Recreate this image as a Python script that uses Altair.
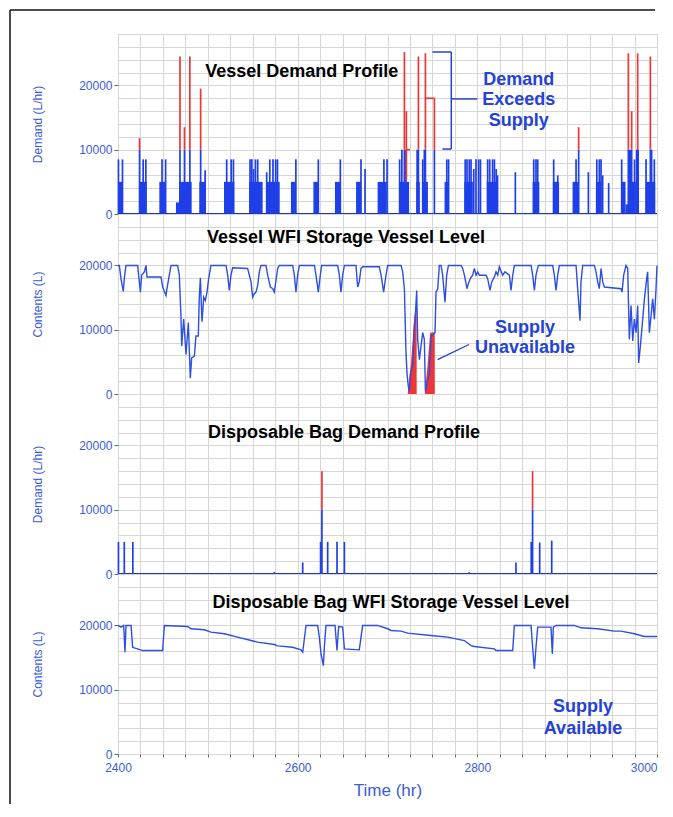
import altair as alt
import pandas as pd

# ---------------- axes / shared values ----------------
X_DOMAIN = [2400, 3000]
Y_DOMAIN = [0, 28000]
SUPPLY_CAP = 10000
grid_x = list(range(2400, 3001, 25))
grid_y = list(range(0, 28001, 2000))

# ---------------- Panel 1: Vessel demand profile ----------------
v_block_t0 = [2400, 2424, 2446, 2464.5, 2468, 2490.5, 2518, 2546, 2565, 2592.5, 2617.5, 2641.5, 2665,
              2689, 2713, 2732, 2739, 2763.5, 2785.5, 2810.5, 2861.5, 2884, 2906, 2932, 2960.5,
              2965, 2968, 2972, 2976.5, 2987.5]
v_block_t1 = [2405, 2432, 2453, 2468, 2482, 2497, 2529.5, 2561, 2580, 2598, 2623, 2647.5, 2670.5,
              2699, 2724, 2736, 2745, 2768, 2795, 2822.5, 2869, 2891, 2913, 2938, 2965,
              2968, 2972, 2976.5, 2980, 2998]
v_block_val = [5000, 5000, 5000, 1800, 5000, 5000, 5000, 5000, 5000, 5000, 5000, 5000, 5000,
               5000, 5000, 5000, 5000, 5000, 5000, 5000, 5000, 5000, 5000, 5000, 5000,
               1500, 10000, 5000, 10000, 5000]

v_spike_t = [2400.5, 2405, 2424, 2428, 2431, 2449, 2453, 2469, 2474, 2480, 2492, 2497,
             2521, 2526, 2528.5, 2547, 2549, 2551, 2553, 2555.5, 2565.5, 2569, 2572.5, 2575.5, 2577.5,
             2598, 2623, 2647.5, 2670.5, 2675, 2696, 2699.5,
             2713.5, 2716, 2718.8, 2720.5, 2733, 2734.4, 2739.2, 2741, 2742.2, 2752.2, 2766, 2768,
             2786.5, 2788.5, 2791, 2793, 2796, 2798.5, 2801.5, 2803.5,
             2811.5, 2813.8, 2817, 2819, 2821, 2822.5, 2842.3, 2862.8, 2865.3, 2867.2,
             2885, 2889.5, 2909.9, 2912.8, 2923.6, 2933, 2935.8, 2937.7, 2939.5, 2946.2,
             2960.7, 2968.1, 2971.8, 2975, 2978.5, 2987.8, 2992.6, 2994, 2997]
v_spike_val = [8500, 8500, 11800, 8500, 8500, 8500, 8500, 24500, 13500, 24500, 19500, 6800,
               8500, 8500, 8500, 8500, 8500, 7000, 8500, 8500, 6500, 8500, 8500, 8500, 8500,
               8500, 8500, 8500, 8500, 7000, 8500, 8500,
               8500, 10000, 25200, 10000, 10000, 24500, 8500, 10000, 25000, 10000, 8500, 8500,
               8500, 8500, 8500, 8500, 7000, 8500, 8500, 8500,
               8500, 8500, 8500, 8500, 7000, 6000, 6500, 8500, 8500, 8500,
               8500, 6000, 8500, 13500, 6500, 8500, 8500, 8500, 6000, 4800,
               8500, 25000, 16000, 8500, 25000, 8500, 24500, 10000, 8500]

# extra red step segments (t0, t1, v0, v1)
v_red_t0 = [2721, 2721, 2742.2, 2752.2]
v_red_t1 = [2721, 2725, 2752.2, 2752.2]
v_red_v0 = [5300, 10000, 18000, 10000]
v_red_v1 = [16000, 10000, 18000, 18000]

# bracket "Demand Exceeds Supply"
br_t0 = [2750, 2771, 2761, 2771]
br_t1 = [2771, 2771, 2771, 2800]
br_v0 = [25200, 25200, 10100, 17900]
br_v1 = [25200, 10100, 10100, 17900]

# ---------------- Panel 2: Vessel WFI storage level ----------------
vessel_level = [
    (2400, 20000), (2401.5, 20000), (2403.3, 17950), (2405.9, 15960), (2407, 17950), (2408.9, 20000),
    (2421.9, 20000), (2424.9, 15850), (2426.3, 18480), (2429.3, 19000), (2431.2, 20000), (2432.3, 18210),
    (2447.9, 18210), (2449.7, 16640), (2453.4, 15330), (2454.5, 16380), (2457.1, 18480), (2459, 20000),
    (2466.4, 20000), (2468.3, 18480), (2470.1, 11920), (2470.9, 7450), (2473.1, 11650), (2475.7, 6140),
    (2478.3, 11130), (2480.5, 2470), (2482, 5620), (2485, 5880), (2486.8, 9030), (2489.4, 9030),
    (2490.5, 15060), (2491.7, 18060), (2493.5, 11230), (2495.4, 15060), (2497.2, 14540), (2499.1, 15850),
    (2500.9, 17950), (2503.5, 20000), (2520.2, 20000), (2522.1, 18480), (2523.9, 16110), (2525.8, 18480),
    (2527.6, 19630), (2544.3, 19530), (2548.1, 17430), (2549.9, 15060), (2551.8, 15590), (2553.6, 15850),
    (2555.5, 16900), (2557.3, 19000), (2559.2, 20000), (2564.7, 20000), (2566.6, 18480), (2569.6, 16640),
    (2572.2, 16380), (2574, 15850), (2575.9, 17690), (2577.7, 19530), (2579.6, 20000), (2594.4, 20000),
    (2596.3, 18480), (2598.1, 15850), (2600, 18480), (2601.9, 20000), (2618.6, 20000), (2620.4, 18480),
    (2623, 15850), (2625.2, 18480), (2626.7, 20000), (2644.5, 20000), (2646.4, 18480), (2648.2, 15850),
    (2650.1, 18480), (2652, 20000), (2664.9, 20000), (2666.8, 16640), (2668.6, 17430), (2670.5, 19530),
    (2672.4, 19790), (2690.9, 19790), (2692.8, 18480), (2695.7, 15850), (2698.3, 18480), (2700.2, 20000),
    (2715.1, 20000), (2716.9, 19000), (2718.8, 16380), (2720.6, 6400), (2721.7, 3250), (2723.2, 1150),
    (2724.3, 370), (2725.5, 3250), (2728.1, 4570), (2729.9, 10600), (2731, 12180), (2732.5, 16110),
    (2733.6, 8500), (2735.5, 5350), (2737.3, 7450), (2739.2, 9550), (2741, 8500), (2742.2, 370),
    (2744, 1680), (2746.6, 3250), (2748.5, 9030), (2752.9, 9550), (2754, 15850), (2755.9, 16380),
    (2757.7, 20000), (2759.6, 20000), (2761.4, 18480), (2764, 14280), (2765.9, 18480), (2767.8, 20000),
    (2781.9, 20000), (2783.7, 19530), (2785.6, 18480), (2788.5, 16380), (2790, 17160), (2792.2, 17950),
    (2794.8, 18480), (2796.7, 19530), (2798.6, 18480), (2800.4, 19000), (2802.3, 18480), (2809.7, 18480),
    (2811.5, 17950), (2814.1, 16110), (2816, 17430), (2819, 18210), (2820.8, 19000), (2822.7, 18480),
    (2824.5, 19790), (2828.2, 18480), (2830.8, 19000), (2835.7, 18480), (2837.5, 16110), (2839.4, 18480),
    (2841.2, 20000), (2859.8, 20000), (2861.6, 18480), (2863.5, 16110), (2865.3, 18480), (2867.9, 20000),
    (2883.9, 20000), (2885.7, 18480), (2887.6, 16110), (2889.5, 18480), (2891.3, 20000), (2909.9, 20000),
    (2911.7, 16380), (2914.3, 11390), (2915.4, 17430), (2917.3, 20000), (2930.3, 20000), (2932.1, 19000),
    (2934, 17430), (2935.8, 16380), (2937.7, 19530), (2939.6, 17430), (2941.4, 16640), (2960, 16380),
    (2961.1, 15850), (2962.9, 18480), (2965.5, 20000), (2967.4, 19530), (2969.2, 8500), (2971.1, 13750),
    (2973, 8240), (2974.8, 11650), (2976.7, 9550), (2978.5, 13750), (2979.6, 4830), (2981.5, 7450),
    (2984.1, 11650), (2986, 14800), (2988.5, 17950), (2989.6, 19000), (2991.5, 9550), (2993.4, 12180),
    (2995.2, 14800), (2997.1, 11650), (2998.9, 16380), (3000, 20000),
]
unavail_1 = [(2722.5, 0), (2726, 4500), (2730, 12200), (2732.4, 13500), (2732.5, 0)]
unavail_2 = [(2741.5, 0), (2744.5, 4300), (2747.5, 9550), (2752.6, 9550), (2752.7, 0)]
leader_t = [2755.8, 2790.7]
leader_v = [5350, 7700]

# ---------------- Panel 3: Disposable bag demand ----------------
b_spike_t = [2400.5, 2407, 2416.5, 2574, 2596, 2605.6, 2625.5, 2627, 2633.4, 2643.8, 2652,
             2791, 2813, 2819, 2843, 2860, 2861.5, 2869.4, 2882.8]
b_spike_val = [5000, 5000, 5000, 300, 100, 1800, 5000, 16000, 5000, 5000, 5000,
               300, 100, 100, 1800, 5000, 16000, 4900, 5200]

# ---------------- Panel 4: Disposable bag WFI storage level ----------------
bag_level = [
    (2400, 20000), (2403.3, 19740), (2406.3, 20000), (2407.8, 15830), (2408.9, 20000), (2414.5, 20000),
    (2416.3, 16610), (2418.2, 16510), (2427.5, 16090), (2449.7, 16090), (2451.6, 20000), (2477.6, 19840),
    (2481.3, 19480), (2496.1, 19320), (2503.5, 18960), (2518.4, 18700), (2533.2, 18180), (2548.1, 17650),
    (2555.5, 17400), (2574, 17030), (2577.7, 16820), (2594.4, 16610), (2603.7, 16200), (2605.6, 15830),
    (2609.3, 20000), (2622.3, 20000), (2624.1, 18180), (2626, 15570), (2628.6, 13750), (2629.7, 16610),
    (2631.5, 20000), (2641.6, 20000), (2643.8, 16090), (2645.6, 19840), (2650.1, 19740), (2652, 16350),
    (2668.6, 16200), (2670.5, 18180), (2672.4, 20000), (2689, 20000), (2700.2, 19480), (2703.9, 19220),
    (2715.1, 19110), (2722.5, 18800), (2748.5, 18440), (2767, 18180), (2785.6, 17650), (2793, 16870),
    (2796.7, 16720), (2819, 16350), (2820.8, 16090), (2839.4, 16090), (2841.2, 20000), (2859.8, 20000),
    (2861.6, 16610), (2863.5, 13230), (2865.3, 16610), (2867.2, 19740), (2882, 19740), (2883.5, 15570),
    (2884.6, 19740), (2887.6, 20000), (2908, 20000), (2915.4, 19630), (2934, 19480), (2952.5, 19110),
    (2960, 19110), (2974.8, 18700), (2985.9, 18280), (3000, 18280),
]

baseline_t = [2400, 3000]

# ---------------- texts ----------------
panel_titles = ["Vessel Demand Profile", "Vessel WFI Storage Vessel Level",
                "Disposable Bag Demand Profile", "Disposable Bag WFI Storage Vessel Level"]
panel_title_t = [2604.6, 2653.8, 2651.6, 2703.9]
panel_title_v = [22130, 24260, 21930, 23530]

note1 = ["Demand", "Exceeds", "Supply"]
note1_t = 2846
note1_v = [20840, 17680, 14510]
note2 = ["Supply", "Unavailable"]
note2_t = 2853
note2_v = [10210, 7210]
note3 = ["Supply", "Available"]
note3_t = 2917.6
note3_v = [7250, 3940]

# ---------------- styling ----------------
W, H = 539, 180
BLUE = "#1f3fe8"
RED = "#ef3636"
LINE_BLUE = "#2c4ee2"
TXT_BLUE = "#2442d4"
AX_BLUE = "#3a5bd9"
GRID = "#d6d6d6"
FRAME = "#5b6e5b"
FONT = "Liberation Sans"

xs = alt.Scale(domain=X_DOMAIN, nice=False, zero=False)
ys = alt.Scale(domain=Y_DOMAIN, nice=False, zero=False)


def x_axis(bottom):
    if bottom:
        return alt.Axis(values=grid_x, format="d",
                        labelExpr="datum.value % 200 == 0 ? datum.label : ''",
                        labelAlign={"condition": {"test": "datum.value >= 3000", "value": "right"},
                                    "value": "center"},
                        title="Time (hr)", grid=True, gridColor=GRID, domain=False,
                        tickSize=3, tickColor=FRAME, labelColor=AX_BLUE, labelFontSize=12,
                        labelPadding=5, titleColor=AX_BLUE, titleFontSize=17,
                        titleFontWeight="normal", titlePadding=9, labelOverlap=False)
    return alt.Axis(values=grid_x, labels=False, ticks=False, domain=False, title=None,
                    grid=True, gridColor=GRID)


def y_axis(title):
    return alt.Axis(values=grid_y, format="d",
                    labelExpr="datum.value % 10000 == 0 ? datum.label : ''",
                    tickColor={"condition": {"test": "datum.value % 10000 == 0", "value": FRAME},
                               "value": "transparent"},
                    title=title, grid=True, gridColor=GRID, domain=False, tickSize=4,
                    labelColor=AX_BLUE, labelFontSize=12, labelPadding=2, labelOverlap=False,
                    titleColor=AX_BLUE, titleFontSize=12, titleFontWeight="normal", titlePadding=34)


def X(field, bottom=False):
    return alt.X(f"{field}:Q", scale=xs, axis=x_axis(bottom))


def Y(field, title):
    return alt.Y(f"{field}:Q", scale=ys, axis=y_axis(title), stack=None)


def text_layer(df, title, bottom=False, color="black", size=18):
    return alt.Chart(df).mark_text(font=FONT, fontSize=size, fontWeight="bold", color=color,
                                   align="center", baseline="middle").encode(
        x=X("t", bottom), y=Y("v", title), text="label:N")


def spike_layers(t, val, title, bottom=False):
    df = pd.DataFrame({"t": t, "val": val})
    df["lo"] = 0
    df["blue_hi"] = df["val"].clip(upper=SUPPLY_CAP)
    red = df[df["val"] > SUPPLY_CAP].copy()
    red["lo"] = SUPPLY_CAP
    blue_l = alt.Chart(df).mark_rule(color=BLUE, strokeWidth=1.7).encode(
        x=X("t", bottom), y=Y("lo", title), y2="blue_hi:Q")
    red_l = alt.Chart(red).mark_rule(color=RED, strokeWidth=1.7).encode(
        x=X("t", bottom), y=Y("lo", title), y2="val:Q")
    return blue_l, red_l


def baseline_layer(title):
    df = pd.DataFrame({"t0": [baseline_t[0]], "t1": [baseline_t[1]], "v": [0]})
    return alt.Chart(df).mark_rule(color="#1f36b8", strokeWidth=2).encode(
        x=X("t0"), x2="t1:Q", y=Y("v", title))


# ---------------- Panel 1 ----------------
T1 = "Demand (L/hr)"
blocks = pd.DataFrame({"t0": v_block_t0, "t1": v_block_t1, "hi": v_block_val})
blocks["lo"] = 0
p1_blocks = alt.Chart(blocks).mark_rect(color=BLUE).encode(
    x=X("t0"), x2="t1:Q", y=Y("lo", T1), y2="hi:Q")
p1_blue, p1_red = spike_layers(v_spike_t, v_spike_val, T1)
red_seg = pd.DataFrame({"t0": v_red_t0, "t1": v_red_t1, "v0": v_red_v0, "v1": v_red_v1})
p1_redseg = alt.Chart(red_seg).mark_rule(color=RED, strokeWidth=1.7).encode(
    x=X("t0"), x2="t1:Q", y=Y("v0", T1), y2="v1:Q")
bracket = pd.DataFrame({"t0": br_t0, "t1": br_t1, "v0": br_v0, "v1": br_v1})
p1_bracket = alt.Chart(bracket).mark_rule(color=TXT_BLUE, strokeWidth=1.5).encode(
    x=X("t0"), x2="t1:Q", y=Y("v0", T1), y2="v1:Q")
p1_title = text_layer(pd.DataFrame({"t": [panel_title_t[0]], "v": [panel_title_v[0]],
                                    "label": [panel_titles[0]]}), T1)
p1_note = text_layer(pd.DataFrame({"t": [note1_t] * 3, "v": note1_v, "label": note1}), T1,
                     color=TXT_BLUE)
one = pd.DataFrame({"k": [0]})
border_left = alt.Chart(one).mark_rule(color="#111111", strokeWidth=1.5).encode(
    x=alt.value(-108), x2=alt.value(-108), y=alt.value(-24), y2=alt.value(770))
border_top = alt.Chart(one).mark_rule(color="#111111", strokeWidth=1.5).encode(
    x=alt.value(-108), x2=alt.value(537), y=alt.value(-24), y2=alt.value(-24))
p1 = alt.layer(p1_blocks, p1_blue, p1_red, p1_redseg, baseline_layer(T1), p1_bracket,
               p1_title, p1_note, border_left, border_top).properties(width=W, height=H)

# ---------------- Panel 2 ----------------
T2 = "Contents (L)"
lvl = pd.DataFrame(vessel_level, columns=["t", "v"])
p2_line = alt.Chart(lvl).mark_line(color=LINE_BLUE, strokeWidth=1.4).encode(
    x=X("t"), y=Y("v", T2), order="t:Q")
ua1 = pd.DataFrame(unavail_1, columns=["t", "v"])
ua2 = pd.DataFrame(unavail_2, columns=["t", "v"])
p2_red1 = alt.Chart(ua1).mark_area(color=RED, opacity=1).encode(x=X("t"), y=Y("v", T2))
p2_red2 = alt.Chart(ua2).mark_area(color=RED, opacity=1).encode(x=X("t"), y=Y("v", T2))
ld = pd.DataFrame({"t0": [leader_t[0]], "t1": [leader_t[1]], "v0": [leader_v[0]], "v1": [leader_v[1]]})
p2_leader = alt.Chart(ld).mark_rule(color=TXT_BLUE, strokeWidth=1.3).encode(
    x=X("t0"), x2="t1:Q", y=Y("v0", T2), y2="v1:Q")
p2_title = text_layer(pd.DataFrame({"t": [panel_title_t[1]], "v": [panel_title_v[1]],
                                    "label": [panel_titles[1]]}), T2)
p2_note = text_layer(pd.DataFrame({"t": [note2_t] * 2, "v": note2_v, "label": note2}), T2,
                     color=TXT_BLUE)
p2 = alt.layer(p2_red1, p2_red2, p2_line, p2_leader, p2_title, p2_note).properties(width=W, height=H)

# ---------------- Panel 3 ----------------
T3 = "Demand (L/hr)"
p3_blue, p3_red = spike_layers(b_spike_t, b_spike_val, T3)
p3_title = text_layer(pd.DataFrame({"t": [panel_title_t[2]], "v": [panel_title_v[2]],
                                    "label": [panel_titles[2]]}), T3)
p3 = alt.layer(baseline_layer(T3), p3_blue, p3_red, p3_title).properties(width=W, height=H)

# ---------------- Panel 4 ----------------
T4 = "Contents (L)"
bl = pd.DataFrame(bag_level, columns=["t", "v"])
p4_line = alt.Chart(bl).mark_line(color=LINE_BLUE, strokeWidth=1.4).encode(
    x=X("t", True), y=Y("v", T4), order="t:Q")
p4_title = text_layer(pd.DataFrame({"t": [panel_title_t[3]], "v": [panel_title_v[3]],
                                    "label": [panel_titles[3]]}), T4, bottom=True)
p4_note = text_layer(pd.DataFrame({"t": [note3_t] * 2, "v": note3_v, "label": note3}), T4,
                     bottom=True, color=TXT_BLUE)
p4 = alt.layer(p4_line, p4_title, p4_note).properties(width=W, height=H)

chart = alt.vconcat(p1, p2, p3, p4, spacing=0, bounds="flush", padding=0).configure(
    font=FONT, background="white"
).configure_view(stroke=FRAME, strokeWidth=1).configure_axis(
    labelFont=FONT, titleFont=FONT
)

chart.save("out.html", embed_options={"renderer": "svg", "actions": False})
